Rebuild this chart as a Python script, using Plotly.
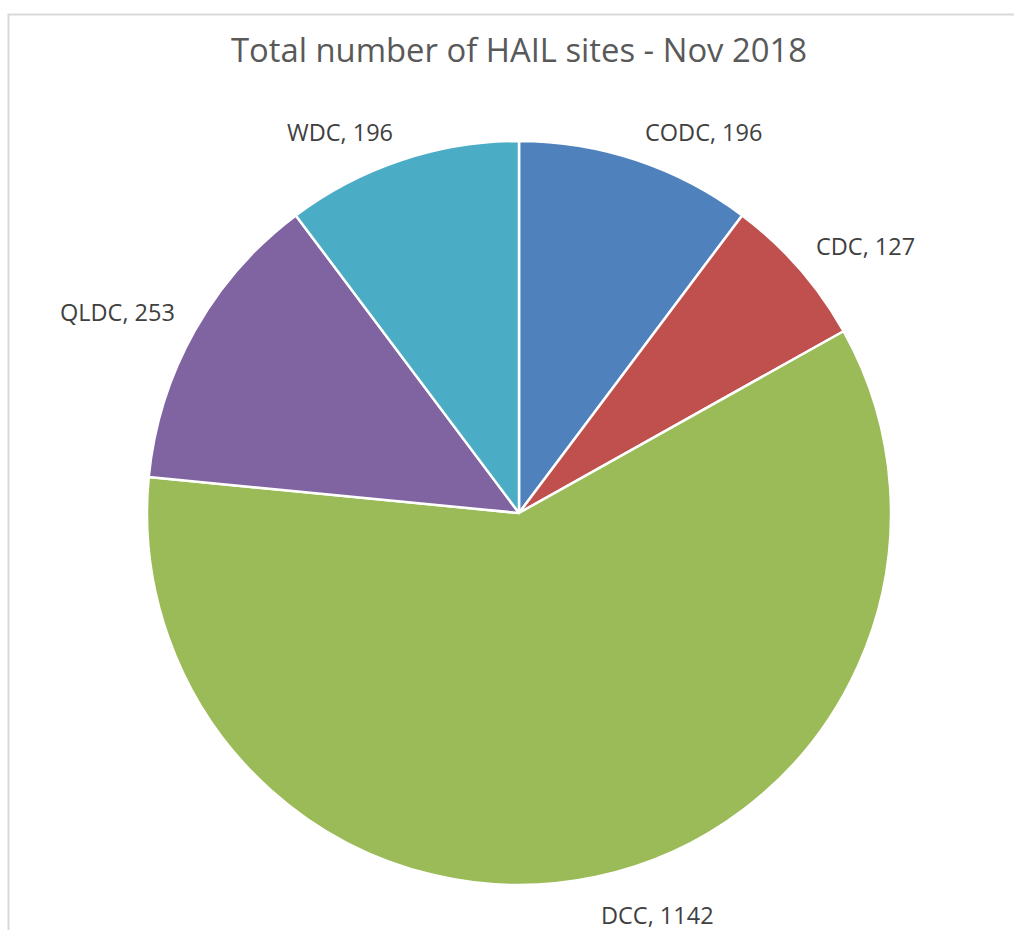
import math
import plotly.graph_objects as go

# HAIL sites per council, November 2018
councils = ["CODC", "CDC", "DCC", "QLDC", "WDC"]
site_counts = [196, 127, 1142, 253, 196]
slice_colors = ["#4F81BD", "#C0504D", "#9BBB59", "#8064A2", "#4BACC6"]

W, H = 1014, 930
cx, cy, r = 519, 513, 372   # pie centre and radius in pixels
label_gap = 20              # distance of data labels beyond the rim

fig = go.Figure(
    go.Pie(
        labels=councils,
        values=site_counts,
        sort=False,
        direction="clockwise",
        rotation=0,
        marker=dict(colors=slice_colors, line=dict(color="white", width=2.5)),
        textinfo="none",
        hoverinfo="label+value",
        domain=dict(
            x=[(cx - r) / W, (cx + r) / W],
            y=[(H - cy - r) / H, (H - cy + r) / H],
        ),
        showlegend=False,
    )
)

# Data labels sit just outside each slice, at the slice's mid-angle
total = sum(site_counts)
annotations = []
start = 0.0
for name, count in zip(councils, site_counts):
    span = count / total * 2 * math.pi
    mid = start + span / 2
    start += span
    s, c = math.sin(mid), math.cos(mid)
    px = cx + (r + label_gap) * s
    py = cy - (r + label_gap) * c
    upper = c >= 0
    annotations.append(
        dict(
            text=f"{name}, {count}",
            x=px / W,
            y=1 - py / H,
            xref="paper",
            yref="paper",
            xanchor="left" if s >= 0 else "right",
            yanchor="bottom" if upper else "top",
            yshift=-9 if upper else 0,
            showarrow=False,
            font=dict(family="Open Sans", size=23.5, color="#404040"),
        )
    )

fig.update_layout(
    width=W,
    height=H,
    margin=dict(l=0, r=0, t=0, b=0),
    paper_bgcolor="white",
    plot_bgcolor="white",
    annotations=annotations,
    title=dict(
        text="Total number of HAIL sites - Nov 2018",
        x=cx / W,
        xanchor="center",
        y=1 - 51 / H,
        yanchor="middle",
        yref="container",
        font=dict(family="Open Sans", size=32.8, color="#595959"),
    ),
    shapes=[
        dict(
            type="rect",
            xref="paper",
            yref="paper",
            x0=8.5 / W,
            x1=1.02,
            y0=-0.02,
            y1=1 - 14.5 / H,
            line=dict(color="#D9D9D9", width=2),
            fillcolor="rgba(0,0,0,0)",
            layer="below",
        )
    ],
)

fig.write_html("out.html")
